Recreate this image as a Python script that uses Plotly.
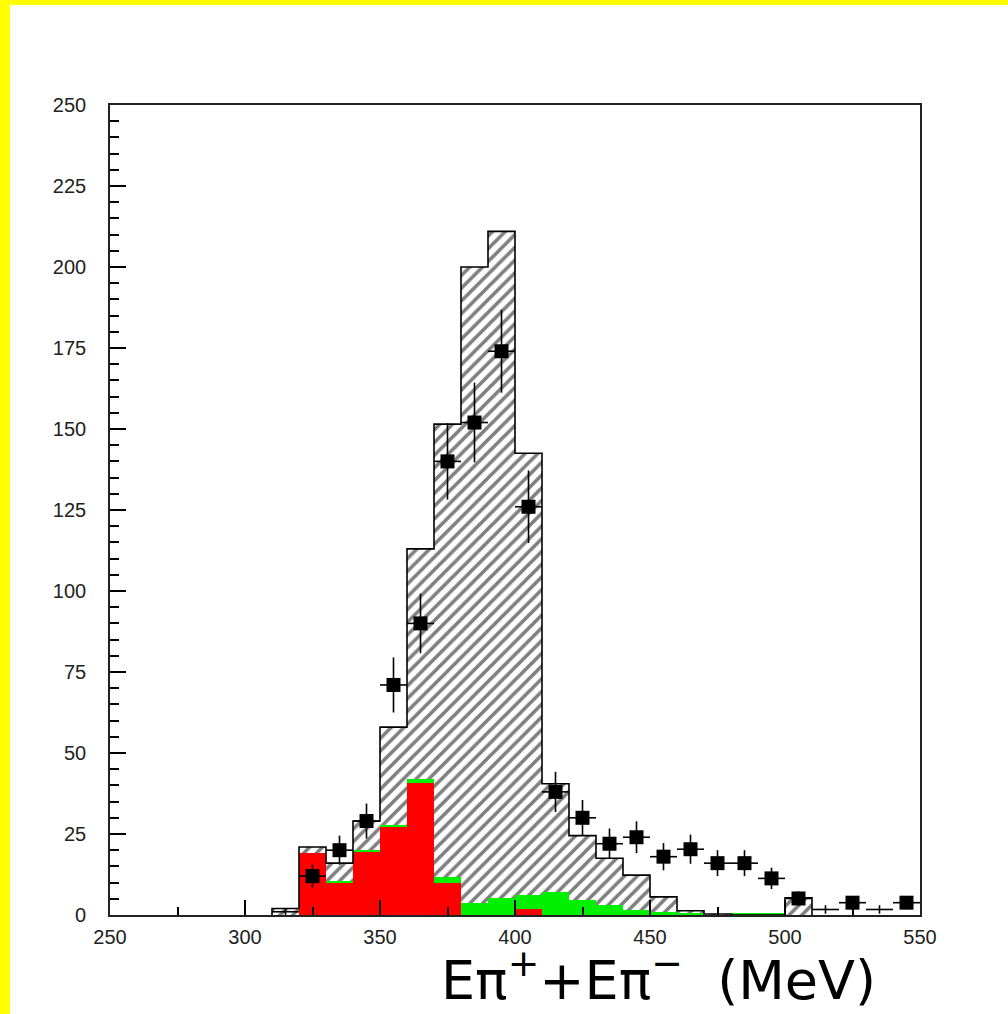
import plotly.graph_objects as go

# ---------------- data ----------------
bin_width = 10
# MC total (hatched) histogram: bins starting at 310 .. 500
mc_left_edges = [310, 320, 330, 340, 350, 360, 370, 380, 390, 400,
                 410, 420, 430, 440, 450, 460, 470, 480, 490, 500]
mc_values = [2, 21, 16, 29, 58, 113, 151.5, 200, 211, 142.5,
             40.5, 24.5, 17.5, 12.3, 5.6, 1.3, 0.3, 0, 0, 5.3]

# green (red + green component, stacked total) and red component
col_left_edges = [320, 330, 340, 350, 360, 370, 380, 390, 400, 410,
                  420, 430, 440, 450, 460, 470, 480, 490]
green_total = [19.2, 10.6, 20, 27.8, 42, 11.8, 3.7, 5.2, 6.2, 7.2,
               4.6, 3.1, 1.5, 1.0, 0.5, 0.0, 0.4, 0.4]
red_values = [19.2, 10, 19.5, 27.2, 40.6, 10, 0, 0, 2, 0,
              0, 0, 0, 0, 0, 0, 0, 0]

# data points
data_x = [315, 325, 335, 345, 355, 365, 375, 385, 395, 405, 415, 425,
          435, 445, 455, 465, 475, 485, 495, 505, 515, 525, 535, 545]
data_y = [1, 12, 20, 29, 71, 90, 140, 152, 174, 126, 38, 30,
          22, 24, 18, 20.3, 16, 16, 11.3, 5.1, 1.7, 3.8, 1.7, 3.8]
data_err = [1, 3.5, 4.5, 5.4, 8.5, 9.2, 11.8, 12.3, 12.8, 11.2, 6.2, 5.5,
            4.7, 4.9, 4.2, 4.5, 4, 4, 3.3, 2.2, 1.3, 2, 1.3, 2]
data_has_marker = [False, True, True, True, True, True, True, True, True, True, True, True,
                   True, True, True, True, True, True, True, True, False, True, False, True]

x_tick_vals = [250, 300, 350, 400, 450, 500, 550]
y_tick_vals = [0, 25, 50, 75, 100, 125, 150, 175, 200, 225, 250]
x_title = "Eπ<sup>+</sup>+Eπ<sup>−</sup>  (MeV)"

# ---------------- figure ----------------
mc_centers = [e + bin_width / 2 for e in mc_left_edges]
col_centers = [e + bin_width / 2 for e in col_left_edges]

# step outline of the MC histogram
step_x = [mc_left_edges[0]] + mc_left_edges + [mc_left_edges[-1] + bin_width]
step_y = [0] + mc_values + [0]

fig = go.Figure()

fig.add_trace(go.Bar(
    x=mc_centers, y=mc_values, width=bin_width,
    marker=dict(color="white", line=dict(width=0),
                pattern=dict(shape="/", fgcolor="black", bgcolor="white",
                             size=9, solidity=0.4)),
    showlegend=False, hoverinfo="skip"))

fig.add_trace(go.Scatter(
    x=step_x, y=step_y, mode="lines", line=dict(color="black", width=1.6, shape="hv"),
    showlegend=False, hoverinfo="skip"))

fig.add_trace(go.Bar(
    x=col_centers, y=green_total, width=bin_width,
    marker=dict(color="#00f000", line=dict(width=0)),
    showlegend=False))

fig.add_trace(go.Bar(
    x=col_centers, y=red_values, width=bin_width,
    marker=dict(color="#ff0000", line=dict(width=0)),
    showlegend=False))

fig.add_trace(go.Scatter(
    x=data_x, y=data_y, mode="markers",
    marker=dict(symbol="square", color="black", opacity=1,
                size=[14 if m else 0 for m in data_has_marker],
                line=dict(width=0)),
    error_y=dict(type="data", array=data_err, visible=True,
                 color="black", thickness=1.6, width=0),
    error_x=dict(type="constant", value=bin_width / 2, visible=True,
                 color="black", thickness=1.6, width=0),
    showlegend=False))

L, R, T, B = 110, 88, 105, 99
W, H = 1008, 1014
pw, ph = W - L - R, H - T - B

fig.update_layout(
    width=W, height=H,
    margin=dict(l=L, r=R, t=T, b=B, pad=0),
    paper_bgcolor="white", plot_bgcolor="white",
    barmode="overlay", bargap=0,
    font=dict(family="Liberation Sans, Arial, sans-serif", size=20, color="#222"),
    xaxis=dict(range=[250, 550], tickvals=x_tick_vals, ticks="inside", ticklen=15,
               tickwidth=1.5, tickcolor="black", showline=True, linecolor="#222",
               linewidth=1.6, mirror=True, showgrid=False, zeroline=False,
               minor=dict(dtick=25, tick0=250, ticks="inside", ticklen=8,
                          tickwidth=1.5, tickcolor="black", showgrid=False),
               ticklabelstandoff=3),
    yaxis=dict(range=[0, 250], tickvals=y_tick_vals, ticks="inside", ticklen=16,
               tickwidth=1.5, tickcolor="black", showline=True, linecolor="#222",
               linewidth=1.6, mirror=True, showgrid=False, zeroline=False,
               minor=dict(dtick=5, tick0=0, ticks="inside", ticklen=9,
                          tickwidth=1.5, tickcolor="black", showgrid=False),
               ticklabelstandoff=18),
    shapes=[
        dict(type="rect", xref="paper", yref="paper", layer="above",
             x0=-L / pw, x1=-(L - 10) / pw, y0=-B / ph, y1=1 + T / ph,
             fillcolor="#ffff00", line=dict(width=0)),
        dict(type="rect", xref="paper", yref="paper", layer="above",
             x0=-L / pw, x1=1 + R / pw, y0=1 + (T - 5) / ph, y1=1 + T / ph,
             fillcolor="#ffff00", line=dict(width=0)),
    ],
    annotations=[
        dict(text=x_title, xref="paper", yref="paper",
             x=(658 - L) / pw, y=-(976 - (T + ph)) / ph,
             xanchor="center", yanchor="middle", showarrow=False,
             font=dict(family="DejaVu Sans, sans-serif", size=54, color="black")),
    ],
)

fig.write_html("out.html")
